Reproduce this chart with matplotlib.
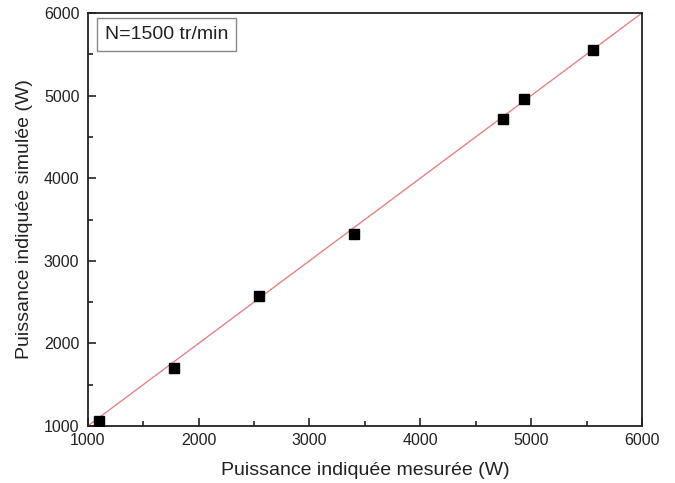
import matplotlib
matplotlib.use("Agg")
import matplotlib.pyplot as plt
from matplotlib.ticker import MultipleLocator

plt.rcParams['font.family'] = ['Liberation Sans', 'DejaVu Sans']

# puissance mesurée / simulée (W)
p_mesuree = [1100, 1779, 2546, 3401, 4743, 4935, 5555]
p_simulee = [1064, 1698, 2578, 3328, 4713, 4959, 5552]
diag = [1000, 6000]

fig = plt.figure(figsize=(6.75, 4.83), dpi=100)
ax = fig.add_axes([0.130, 0.118, 0.821, 0.855])

ax.plot(diag, diag, color='#e08585', lw=1.0, zorder=2)
ax.plot(p_mesuree, p_simulee, 's', color='black', ms=6.5, zorder=3)

ax.set_xlim(1000, 6000)
ax.set_ylim(1000, 6000)
ax.xaxis.set_major_locator(MultipleLocator(1000))
ax.xaxis.set_minor_locator(MultipleLocator(500))
ax.yaxis.set_major_locator(MultipleLocator(1000))
ax.yaxis.set_minor_locator(MultipleLocator(500))
ax.tick_params(which='both', direction='in', top=False, right=False,
               labelsize=11.5, colors='#222222', width=1.2)
ax.tick_params(axis='x', pad=5)
ax.tick_params(axis='y', pad=6)
ax.tick_params(which='major', length=6)
ax.tick_params(which='minor', length=3.5)
for s in ax.spines.values():
    s.set_linewidth(1.3)
    s.set_color('#222222')

ax.set_xlabel('Puissance indiquée mesurée (W)', fontsize=14, labelpad=10, color='#222222')
ax.set_ylabel('Puissance indiquée simulée (W)', fontsize=14, labelpad=8, color='#222222')

ax.text(0.031, 0.969, 'N=1500 tr/min', transform=ax.transAxes, fontsize=14,
        va='top', ha='left', color='#222222',
        bbox=dict(boxstyle='square,pad=0.4', fc='white', ec='#888888', lw=1.0))

fig.savefig('out.png', dpi=100)
